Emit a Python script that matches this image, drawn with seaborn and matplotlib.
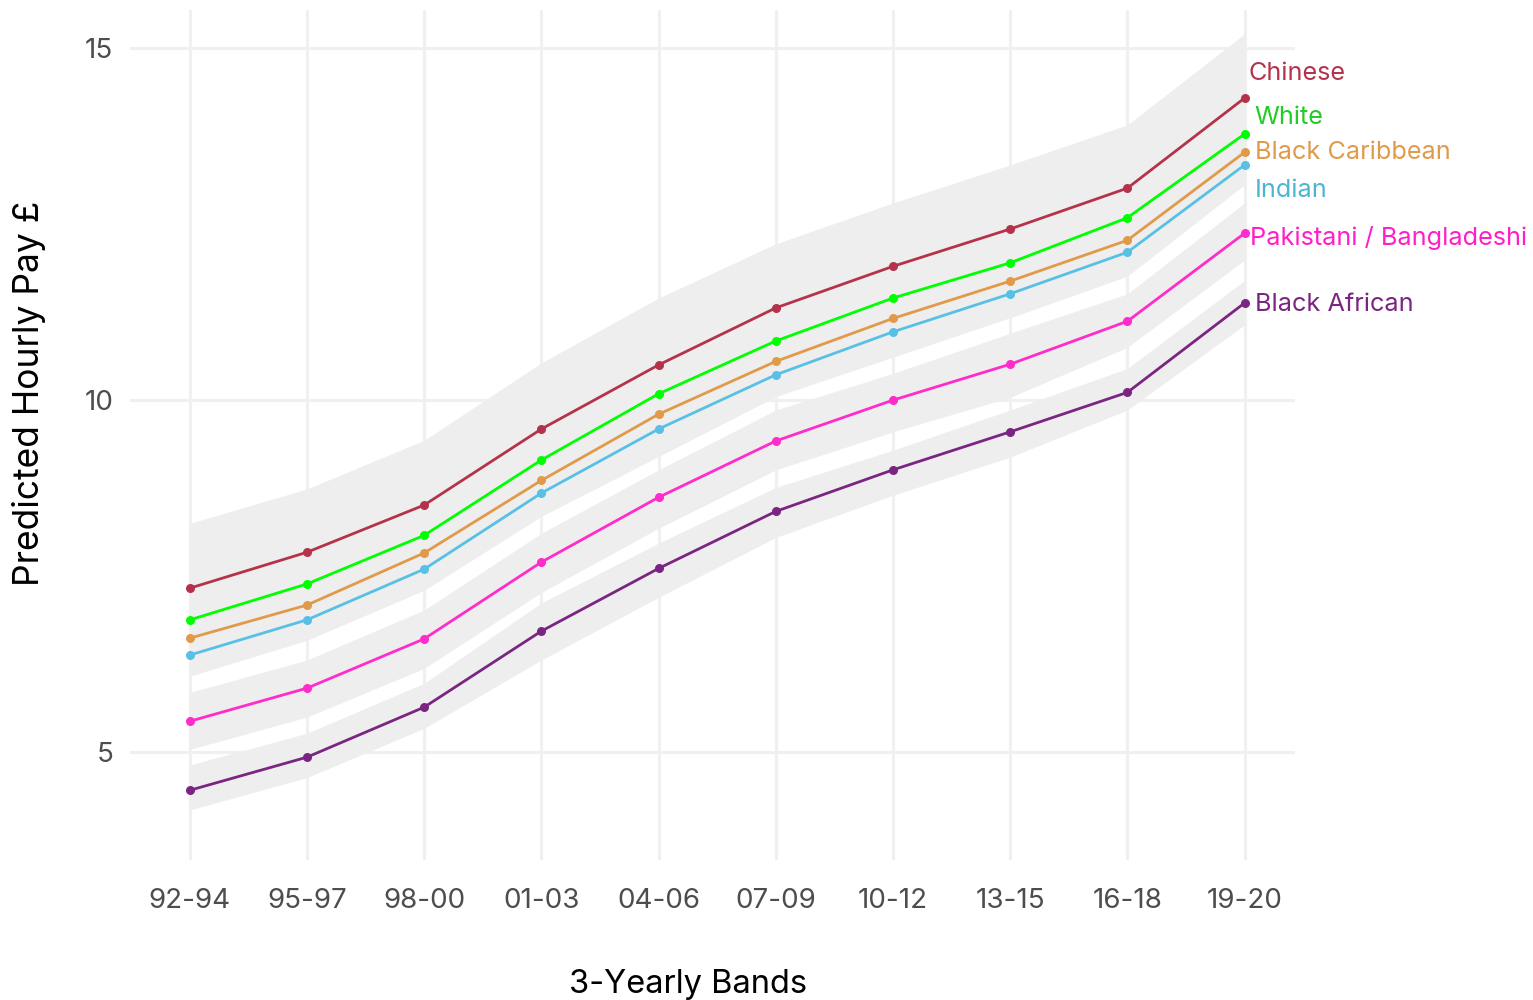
import numpy as np
import pandas as pd
import matplotlib
matplotlib.use("Agg")
import matplotlib.pyplot as plt
import seaborn as sns

# 3-year bands of the survey
bands = ["92-94", "95-97", "98-00", "01-03", "04-06", "07-09", "10-12", "13-15", "16-18", "19-20"]

# Predicted hourly pay (GBP) by ethnic group, with confidence bounds
chinese = [7.33, 7.84, 8.51, 9.59, 10.50, 11.31, 11.90, 12.43, 13.01, 14.29]
chinese_lo = [6.43, 6.94, 7.61, 8.69, 9.60, 10.41, 11.00, 11.53, 12.11, 13.39]
chinese_hi = [8.25, 8.74, 9.43, 10.53, 11.45, 12.22, 12.80, 13.34, 13.91, 15.20]

white = [6.88, 7.39, 8.08, 9.15, 10.09, 10.84, 11.45, 11.95, 12.59, 13.78]
white_lo = [6.76, 7.27, 7.96, 9.03, 9.97, 10.72, 11.33, 11.83, 12.47, 13.66]
white_hi = [7.00, 7.51, 8.20, 9.27, 10.21, 10.96, 11.57, 12.07, 12.71, 13.90]

black_caribbean = [6.62, 7.09, 7.83, 8.86, 9.80, 10.55, 11.16, 11.69, 12.27, 13.52]
black_caribbean_lo = [6.27, 6.74, 7.48, 8.51, 9.45, 10.20, 10.81, 11.34, 11.92, 13.17]
black_caribbean_hi = [6.97, 7.44, 8.18, 9.21, 10.15, 10.90, 11.51, 12.04, 12.62, 13.87]

indian = [6.38, 6.88, 7.60, 8.68, 9.59, 10.36, 10.97, 11.51, 12.10, 13.34]
indian_lo = [6.08, 6.59, 7.30, 8.35, 9.20, 10.05, 10.61, 11.17, 11.76, 13.06]
indian_hi = [6.68, 7.17, 7.90, 9.01, 9.98, 10.67, 11.33, 11.85, 12.44, 13.62]

pak_bang = [5.44, 5.91, 6.61, 7.70, 8.62, 9.42, 10.00, 10.51, 11.12, 12.37]
pak_bang_lo = [5.04, 5.50, 6.19, 7.27, 8.18, 9.01, 9.55, 10.04, 10.75, 11.99]
pak_bang_hi = [5.85, 6.31, 7.02, 8.11, 9.01, 9.86, 10.38, 10.95, 11.51, 12.80]

black_african = [4.46, 4.93, 5.64, 6.72, 7.61, 8.42, 9.01, 9.55, 10.11, 11.38]
black_african_lo = [4.18, 4.64, 5.34, 6.31, 7.20, 8.05, 8.65, 9.19, 9.86, 11.07]
black_african_hi = [4.82, 5.27, 5.98, 7.12, 7.97, 8.76, 9.29, 9.86, 10.45, 11.70]

groups = ["Chinese", "White", "Black Caribbean", "Indian",
          "Pakistani / Bangladeshi", "Black African"]
values = [chinese, white, black_caribbean, indian, pak_bang, black_african]
lows = [chinese_lo, white_lo, black_caribbean_lo, indian_lo, pak_bang_lo, black_african_lo]
highs = [chinese_hi, white_hi, black_caribbean_hi, indian_hi, pak_bang_hi, black_african_hi]

line_colors = {
    "Chinese": "#B5334A",
    "White": "#00FF00",
    "Black Caribbean": "#E09A4A",
    "Indian": "#58C0E4",
    "Pakistani / Bangladeshi": "#FF2BCB",
    "Black African": "#7B2582",
}
label_colors = {
    "Chinese": "#B5334A",
    "White": "#22CC22",
    "Black Caribbean": "#E09A4A",
    "Indian": "#4DB6CF",
    "Pakistani / Bangladeshi": "#FF1FC8",
    "Black African": "#7B2582",
}
# label anchor: (x offset in band units, y in pounds)
label_pos = {
    "Chinese": (0.035, 14.64),
    "White": (0.085, 14.02),
    "Black Caribbean": (0.085, 13.51),
    "Indian": (0.085, 12.97),
    "Pakistani / Bangladeshi": (0.05, 12.30),
    "Black African": (0.085, 11.36),
}

pos = np.arange(len(bands))
df = pd.DataFrame({
    "pos": np.tile(pos, len(groups)),
    "pay": np.concatenate(values),
    "group": np.repeat(groups, len(bands)),
})

sns.set_theme(style="white")
plt.rcParams["font.family"] = ["Inter", "DejaVu Sans"]

fig = plt.figure(figsize=(15.33, 10), dpi=100)
ax = fig.add_axes([130 / 1533, 0.14, (1295 - 130) / 1533, 0.85])

# confidence ribbons (opaque light grey, drawn over the grid)
for lo, hi in zip(lows, highs):
    ax.fill_between(pos, lo, hi, color="#EEEEEE", lw=0, zorder=1)

sns.lineplot(data=df, x="pos", y="pay", hue="group", hue_order=groups,
             palette=line_colors, marker="o", markersize=6.5,
             markeredgewidth=0, linewidth=2.0, legend=False, ax=ax, zorder=3)

for g in groups:
    dx, y = label_pos[g]
    ax.text(pos[-1] + dx, y, g, color=label_colors[g], fontsize=18.2,
            ha="left", va="center", zorder=4, clip_on=False)

ax.set_xlim(-0.51, 9.43)
ax.set_ylim(3.47, 15.54)
ax.set_xticks(pos)
ax.set_xticklabels(bands)
ax.set_yticks([5, 10, 15])
ax.set_yticklabels(["5", "10", "15"])

ax.set_axisbelow(True)
ax.grid(True, color="#F0F0F0", linewidth=2.2)
for s in ax.spines.values():
    s.set_visible(False)
ax.tick_params(axis="both", length=0, labelsize=20, labelcolor="#4D4D4D")
ax.tick_params(axis="x", pad=20)
ax.tick_params(axis="y", pad=12)

ax.set_xlabel("3-Yearly Bands", fontsize=23.5, color="black")
ax.set_ylabel("Predicted Hourly Pay £", fontsize=25.5, color="black")
ax.xaxis.set_label_coords((688 - 130) / (1295 - 130), -0.128)
ax.yaxis.set_label_coords((46 - 130) / (1295 - 130), (860 - 393) / 850)

fig.savefig("out.png", dpi=100)
